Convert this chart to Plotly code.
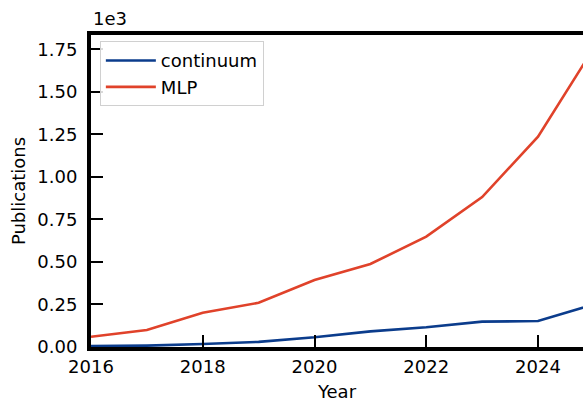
import plotly.graph_objects as go

# Publications per year
years = [2016, 2017, 2018, 2019, 2020, 2021, 2022, 2023, 2024, 2025]
continuum = [5, 8, 18, 30, 57, 92, 116, 149, 153, 250]
mlp = [60, 100, 202, 260, 394, 488, 649, 882, 1237, 1760]

y_tick_vals = [0, 250, 500, 750, 1000, 1250, 1500, 1750]
y_tick_text = [f"{v / 1000:.2f}" for v in y_tick_vals]
x_tick_vals = [2016, 2018, 2020, 2022, 2024]

font_family = "DejaVu Sans"

fig = go.Figure()
fig.add_trace(go.Scatter(x=years, y=continuum, mode="lines", name="continuum",
                         line=dict(color="#0b3c8c", width=2.6)))
fig.add_trace(go.Scatter(x=years, y=mlp, mode="lines", name="MLP",
                         line=dict(color="#e0422a", width=2.6)))

fig.update_layout(
    width=583, height=402,
    margin=dict(l=91, r=0, t=35, b=55),
    paper_bgcolor="white", plot_bgcolor="white",
    font=dict(family=font_family, size=18, color="black"),
    showlegend=True,
    legend=dict(x=0.018, y=0.98, xanchor="left", yanchor="top",
                bgcolor="rgba(255,255,255,0.85)", bordercolor="#d0d0d0", borderwidth=1,
                font=dict(size=18), itemwidth=50),
    xaxis=dict(range=[2016, 2024.805], tickvals=x_tick_vals, ticks="inside",
               ticklen=12, tickwidth=2, tickcolor="black", showgrid=False, zeroline=False,
               showline=True, linewidth=4, linecolor="black", mirror=True,
               tickfont=dict(size=18), automargin=False,
               title=dict(text="Year", standoff=16, font=dict(size=18)), ticklabelstandoff=0),
    yaxis=dict(range=[0, 1835], tickvals=y_tick_vals, ticktext=y_tick_text, ticks="inside",
               ticklen=12, tickwidth=2, tickcolor="black", showgrid=False, zeroline=False,
               showline=True, linewidth=4, linecolor="black", mirror=False,
               tickfont=dict(size=18), automargin=False,
               title=dict(text="Publications", standoff=8, font=dict(size=18)),
               ticklabelstandoff=6),
)

fig.add_annotation(text="1e3", xref="paper", yref="paper", x=0, y=1, xanchor="left",
                   yanchor="bottom", yshift=4, showarrow=False, font=dict(size=18))

fig.write_html("out.html")
